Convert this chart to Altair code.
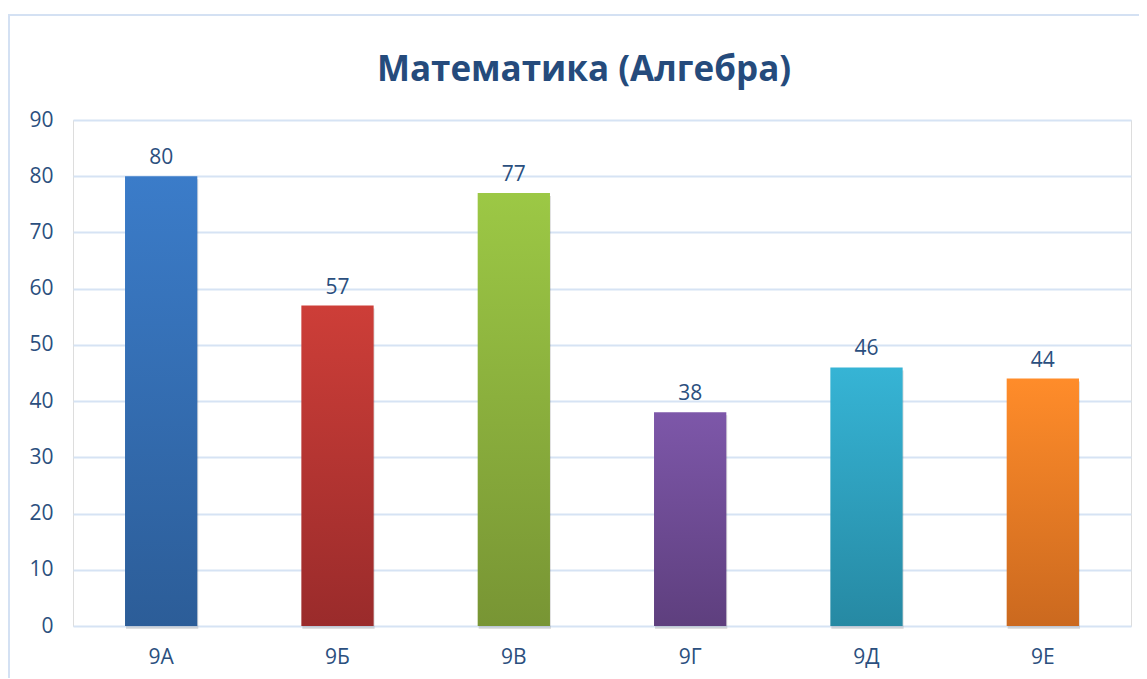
import altair as alt
import pandas as pd

classes = ["9А", "9Б", "9В", "9Г", "9Д", "9Е"]
values = [80, 57, 77, 38, 46, 44]
top_colors = ["#3B7CC9", "#CD3E38", "#9CC845", "#7D57A9", "#36B4D5", "#FF8C2A"]
bottom_colors = ["#2C5D98", "#9A2B2B", "#789534", "#5E3F7E", "#2689A3", "#CB691F"]
y_ticks = [0, 10, 20, 30, 40, 50, 60, 70, 80, 90]

df = pd.DataFrame({"cls": classes, "val": values})

TEXT = "#2B4F7E"
GRID = "#D6E3F4"
FONT = "Open Sans"
FS = 21

x_enc = alt.X("cls:N", sort=classes, title=None,
              scale=alt.Scale(paddingInner=0.59, paddingOuter=0.295),
              axis=alt.Axis(labelAngle=0, labelFontSize=FS, labelColor=TEXT, labelFont=FONT,
                            labelPadding=20, ticks=False, domain=False, grid=False))
y_enc = alt.Y("val:Q", title=None,
              scale=alt.Scale(domain=[0, 90], nice=False),
              axis=alt.Axis(values=y_ticks, labelFontSize=FS, labelColor=TEXT, labelFont=FONT,
                            labelPadding=20, ticks=False, domain=False,
                            grid=True, gridColor=GRID, gridWidth=2))

base = alt.Chart(df)

frame = base.mark_rect(fill="white", fillOpacity=0, stroke="#D4E1F3", strokeWidth=2).encode(
    x=alt.value(-64), x2=alt.value(1120), y=alt.value(-105), y2=alt.value(600)
).transform_filter(alt.datum.cls == classes[0])

layers = [frame]
# grid/axes layer
layers.append(base.mark_bar(opacity=0).encode(x=x_enc, y=y_enc))

for c, t, b in zip(classes, top_colors, bottom_colors):
    shadow = base.transform_filter(alt.datum.cls == c).mark_bar(
        color="#000000", opacity=0.12, xOffset=1, yOffset=3
    ).encode(x=alt.X("cls:N", sort=classes), y=alt.Y("val:Q"))
    bar = base.transform_filter(alt.datum.cls == c).mark_bar(
        color=alt.Gradient(gradient="linear", x1=0, y1=0, x2=0, y2=1,
                           stops=[alt.GradientStop(offset=0, color=t),
                                  alt.GradientStop(offset=1, color=b)])
    ).encode(x=alt.X("cls:N", sort=classes), y=alt.Y("val:Q"))
    layers.append(shadow)
    layers.append(bar)

labels = base.mark_text(baseline="bottom", dy=-8, fontSize=FS, color=TEXT, font=FONT).encode(
    x=alt.X("cls:N", sort=classes), y=alt.Y("val:Q"), text=alt.Text("val:Q")
)
layers.append(labels)

chart = alt.layer(*layers).properties(
    width=1058, height=506,
    title=alt.TitleParams("Математика (Алгебра)", fontSize=35, font=FONT, fontWeight="bold",
                          color="#254B7C", anchor="middle", frame="group", dx=-18,
                          offset=30, dy=104),
    padding={"left": 65, "top": 112, "right": 8, "bottom": 52},
    autosize=alt.AutoSizeParams(type="none"),
).configure_view(stroke=None).configure(background="white")

chart.save("out.html", embed_options={"renderer": "svg", "actions": False})
